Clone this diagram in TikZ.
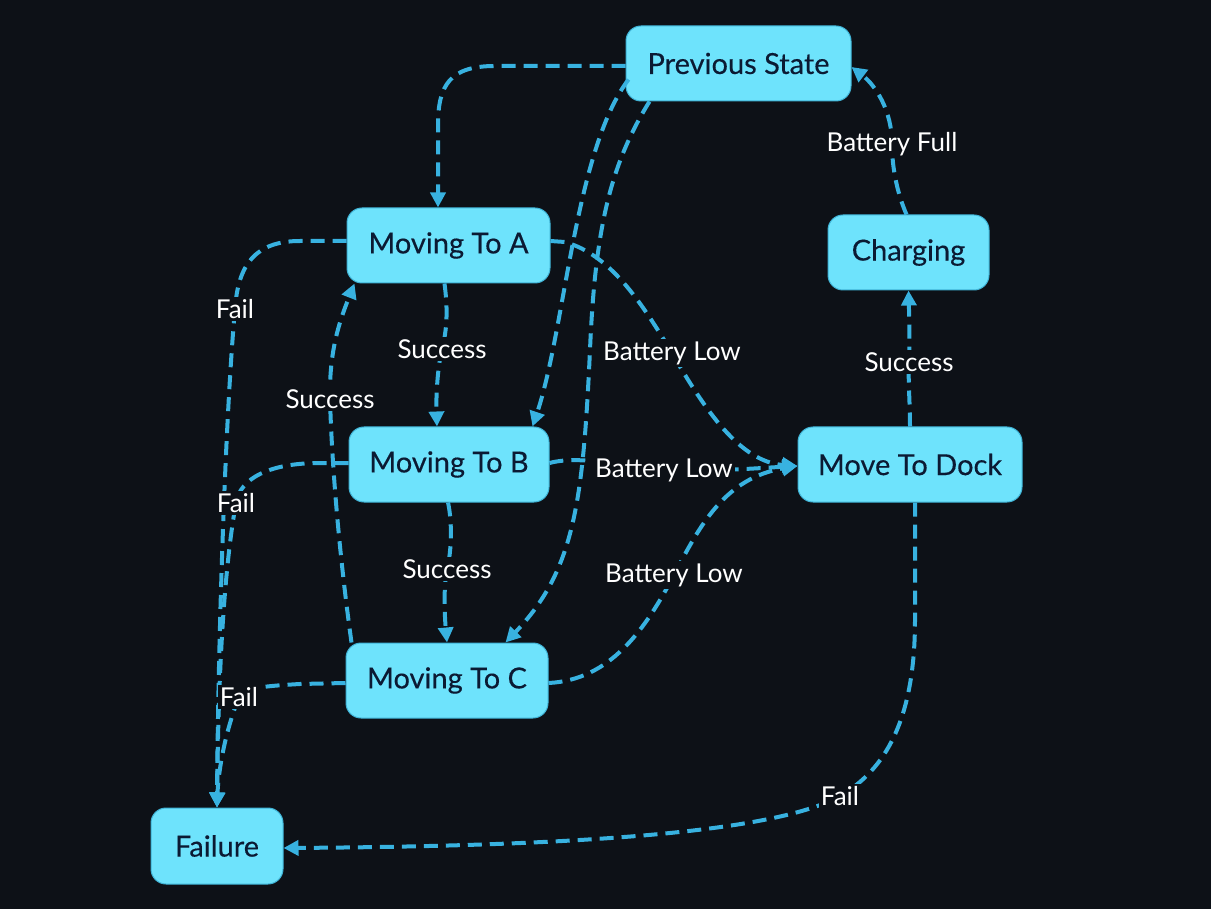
\documentclass[tikz,border=0pt]{standalone}
\usepackage{fontspec}
\setmainfont{Lato}
\newfontfamily\nodefont[FakeBold=0.3]{Lato}
\usetikzlibrary{arrows.meta}
\definecolor{bg}{HTML}{0D1117}
\definecolor{nodefill}{HTML}{6EE3FC}
\definecolor{nodeborder}{HTML}{3FB3D6}
\definecolor{nodetext}{HTML}{0B1A33}
\definecolor{edgecol}{HTML}{38B2E0}
\tikzset{
  state/.style={rectangle, rounded corners=15pt, fill=nodefill, draw=nodeborder, line width=1pt,
    minimum height=75pt, text=nodetext, font=\nodefont\fontsize{29}{33}\selectfont, inner sep=0pt},
  edge/.style={draw=edgecol, line width=4pt, dash pattern=on 14pt off 8pt,
    -{Triangle[length=15pt,width=15pt]}},
  lbl/.style={fill=bg, text=white, font=\fontsize{26}{30}\selectfont, inner sep=2pt}
}
\begin{document}
\begin{tikzpicture}[x=1pt,y=-1pt]
\fill[bg] (0,0) rectangle (1211,909);
\useasboundingbox (0,0) rectangle (1211,909);

\node[state, minimum width=225pt] (ps) at (738.5,63.5) {Previous State};
\node[state, minimum width=203pt] (a) at (448.5,245.5) {Moving To A};
\node[state, minimum width=200pt] (b) at (449,464.5) {Moving To B};
\node[state, minimum width=202pt] (c) at (447,680.5) {Moving To C};
\node[state, minimum width=224pt] (dock) at (910,464.5) {Move To Dock};
\node[state, minimum width=161pt] (chg) at (908.5,252.5) {Charging};
\node[state, minimum width=132pt, minimum height=76pt] (fail) at (217,846) {Failure};

% Previous State -> A, B, C
\draw[edge] ([yshift=-2.5]ps.west) -- (495,66) .. controls (450,66) and (438,85) .. (438,125) -- ([xshift=-10.5]a.north);
\draw[edge] ([xshift=3,yshift=-16]ps.west) .. controls (575,150) and (565,330) .. ([xshift=-17]b.north east);
\draw[edge] ([xshift=24]ps.south west) .. controls (610,165) and (595,230) .. (590,350) .. controls (583,500) and (575,570) .. ([xshift=-43]c.north east);

% Fail edges to Failure
\draw[edge] ([yshift=4.5]a.west) -- (300,241) .. controls (255,241) and (238,265) .. (235,309) node[lbl]{Fail} .. controls (225,420) and (218,650) .. (fail.north);
\draw[edge] ([yshift=1.5]b.west) -- (320,463) .. controls (270,463) and (240,478) .. (236,503) node[lbl]{Fail} .. controls (222,580) and (218,700) .. (fail.north);
\draw[edge] ([yshift=-2.5]c.west) -- (300,684) .. controls (265,686) and (242,688) .. (239,697) node[lbl]{Fail} .. controls (222,740) and (218,780) .. (fail.north);

% Success chain
\draw[edge] ([xshift=-4]a.south) .. controls (448,310) and (447,330) .. (442,349) node[lbl]{Success} .. controls (437,370) and (436,400) .. ([xshift=-12]b.north);
\draw[edge] ([xshift=-1]b.south) .. controls (452,520) and (452,550) .. (447,569) node[lbl]{Success} .. controls (443,590) and (445,620) .. (c.north);
\draw[edge] ([xshift=6]c.north west) .. controls (340,560) and (332,470) .. (330,399) node[lbl]{Success} .. controls (329,350) and (340,320) .. ([xshift=8]a.south west);

% Battery Low edges
\draw[edge] ([yshift=4.5]a.east) -- (565,242) .. controls (610,255) and (640,300) .. (672,353) node[lbl]{Battery Low} .. controls (705,410) and (740,462) .. ([yshift=-1.5]dock.west);
\draw[edge] ([yshift=1.5]b.east) .. controls (580,455) and (620,466) .. (664,470) node[lbl]{Battery Low} .. controls (710,472) and (760,468) .. ([yshift=-1.5]dock.west);
\draw[edge] ([yshift=-2.5]c.east) .. controls (610,680) and (645,630) .. (674,575) node[lbl]{Battery Low} .. controls (700,525) and (725,478) .. ([yshift=-1.5]dock.west);

% Dock -> Charging -> Previous State
\draw[edge] (dock.north) .. controls (910,400) and (908,385) .. (909,362) node[lbl]{Success} .. controls (910,340) and (909,310) .. (chg.south);
\draw[edge] ([xshift=-2]chg.north) .. controls (898,195) and (892,170) .. (892,144) node[lbl]{Battery Full} .. controls (892,110) and (875,85) .. ([yshift=-3.5]ps.east);

% Dock -> Failure
\draw[edge] ([xshift=5]dock.south) -- (915,620) .. controls (915,720) and (885,770) .. (840,796) node[lbl]{Fail} .. controls (780,830) and (600,846) .. ([yshift=-2]fail.east);
\end{tikzpicture}
\end{document}
